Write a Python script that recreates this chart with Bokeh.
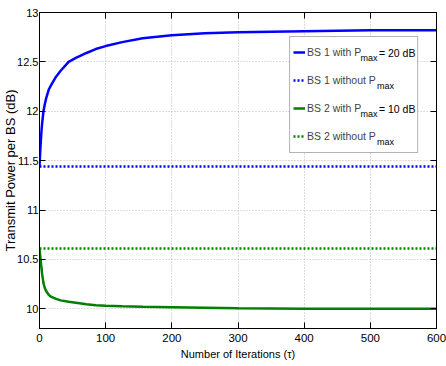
from bokeh.plotting import figure
from bokeh.models import (LinearAxis, FixedTicker, Legend, LegendItem,
                          BoxAnnotation, Label, Range1d, CustomLabelingPolicy)
from bokeh.embed import file_html
from bokeh.resources import INLINE

# ---------------- data ----------------
iterations = [0, 1, 2, 3, 4, 6, 8, 10, 14, 18, 25, 32, 44, 55, 71, 85,
              100, 125, 156, 200, 250, 300, 400, 500, 600]
bs1_with_pmax = [11.44, 11.58, 11.70, 11.80, 11.88, 12.00, 12.07, 12.13, 12.22,
                 12.27, 12.35, 12.41, 12.50, 12.54, 12.59, 12.63, 12.66, 12.70,
                 12.74, 12.77, 12.79, 12.80, 12.81, 12.82, 12.82]
bs2_with_pmax = [10.61, 10.54, 10.48, 10.41, 10.35, 10.26, 10.21, 10.18, 10.14,
                 10.12, 10.10, 10.085, 10.07, 10.06, 10.045, 10.035, 10.03,
                 10.025, 10.02, 10.015, 10.01, 10.005, 10.0, 10.0, 10.0]
flat_iterations = [0, 600]
bs1_without_pmax = [11.44, 11.44]
bs2_without_pmax = [10.61, 10.61]

x_ticks = [0, 100, 200, 300, 400, 500, 600]
y_ticks = [10, 10.5, 11, 11.5, 12, 12.5, 13]
y_tick_labels = ["10", "10.5", "11", "11.5", "12", "12.5", "13"]

legend_labels = ["BS 1 with P", "BS 1 without P", "BS 2 with P", "BS 2 without P"]
legend_subscript = "max"
legend_suffix = ["= 20 dB", "", "= 10 dB", ""]

x_label = "Number of Iterations (\u03c4)"
y_label = "Transmit Power per BS (dB)"

# ---------------- style / layout ----------------
FONT = "Liberation Sans"
BLUE = "#0000ff"
GREEN = "#008000"

X0, X1, Y0, Y1 = 0, 600, 9.8, 13
FL, FR, FT, FB = 36, 436, 12, 328  # frame in pixels


def dx(px):
    return X0 + (px - FL) * (X1 - X0) / (FR - FL)


def dy(py):
    return Y1 - (py - FT) * (Y1 - Y0) / (FB - FT)


p = figure(width=446, height=366, output_backend="svg", toolbar_location=None,
           x_range=Range1d(X0, X1), y_range=Range1d(Y0, Y1),
           min_border_left=FL, min_border_right=446 - FR,
           min_border_top=FT, min_border_bottom=366 - FB)
p.outline_line_color = "black"
p.outline_line_width = 1
p.background_fill_color = "white"
p.border_fill_color = "white"

for g in (p.xgrid[0], p.ygrid[0]):
    g.grid_line_color = "#b8b8b8"
    g.grid_line_dash = "1 2"
    g.grid_line_width = 1

xa = p.xaxis[0]
ya = p.yaxis[0]
xa.ticker = FixedTicker(ticks=x_ticks)
ya.ticker = FixedTicker(ticks=y_ticks)
ya.major_label_overrides = {t: s for t, s in zip(y_ticks, y_tick_labels)}
for ax in (xa, ya):
    ax.major_tick_in = 6
    ax.major_tick_out = 0
    ax.minor_tick_line_color = None
    ax.axis_line_color = "black"
    ax.major_tick_line_color = "black"
    ax.major_label_text_font = FONT
    ax.major_label_text_color = "black"
    ax.axis_label_text_font_style = "normal"
    ax.axis_label_text_color = "black"
xa.major_label_text_font_size = "11.5px"
ya.major_label_text_font_size = "11px"
xa.axis_label = x_label
xa.axis_label_text_font = FONT
xa.axis_label_text_font_size = "11px"
xa.major_label_standoff = 5
xa.axis_label_standoff = 3
ya.axis_label = y_label
ya.axis_label_text_font = FONT
ya.axis_label_text_font_size = "13px"
ya.axis_label_text_line_height = 1.0
ya.major_label_standoff = 1
ya.axis_label_standoff = -4   # title tucked close to the tick labels, as in the original

no_labels = """
for (const i of Array.from(indices)) indices.unset(i)
return indices
"""
top_ax = LinearAxis(ticker=FixedTicker(ticks=x_ticks), major_label_text_font_size="1px",
                    major_label_policy=CustomLabelingPolicy(code=no_labels),
                    major_label_standoff=0, major_tick_in=6, major_tick_out=0,
                    minor_tick_line_color=None, axis_line_color="black")
right_ax = LinearAxis(ticker=FixedTicker(ticks=y_ticks), major_label_text_font_size="1px",
                      major_label_policy=CustomLabelingPolicy(code=no_labels),
                      major_label_standoff=0, major_tick_in=6, major_tick_out=0,
                      minor_tick_line_color=None, axis_line_color="black")
p.add_layout(top_ax, "above")
p.add_layout(right_ax, "right")

r1 = p.line(iterations, bs1_with_pmax, line_color=BLUE, line_width=2.5)
r2 = p.line(flat_iterations, bs1_without_pmax, line_color=BLUE, line_width=2.5, line_dash="2 2")
r3 = p.line(iterations, bs2_with_pmax, line_color=GREEN, line_width=2.5)
r4 = p.line(flat_iterations, bs2_without_pmax, line_color=GREEN, line_width=2.5, line_dash="2 2")

# ---------------- legend ----------------
LEG_L, LEG_R, LEG_T, LEG_B = 288, 417, 36, 152
ROW_H = 28
box = BoxAnnotation(left=dx(LEG_L), right=dx(LEG_R), top=dy(LEG_T), bottom=dy(LEG_B),
                    fill_color="white", fill_alpha=1.0, line_color="black", line_width=1)
p.add_layout(box)

legend = Legend(items=[LegendItem(label=lab, renderers=[r])
                       for lab, r in zip(legend_labels, [r1, r2, r3, r4])],
                location=(LEG_L - FL, FB - LEG_B), padding=2, spacing=0, margin=0,
                glyph_width=12, glyph_height=ROW_H, label_height=ROW_H, label_standoff=2,
                label_text_font=FONT, label_text_font_size="10.5px",
                border_line_alpha=0, background_fill_alpha=0)
p.add_layout(legend, "center")

sub_px = [359.5, 376, 359.5, 376]
suffix_px = 378
for i in range(4):
    row_c = LEG_T + 2 + ROW_H * i + ROW_H / 2
    p.add_layout(Label(x=dx(sub_px[i]), y=dy(row_c + 5), text=legend_subscript,
                       text_font=FONT, text_font_size="9px", text_baseline="middle",
                       text_color="black"))
    if legend_suffix[i]:
        p.add_layout(Label(x=dx(suffix_px), y=dy(row_c), text=legend_suffix[i],
                           text_font=FONT, text_font_size="10.5px", text_baseline="middle",
                           text_color="black"))

open("out.html", "w").write(file_html(p, INLINE))
